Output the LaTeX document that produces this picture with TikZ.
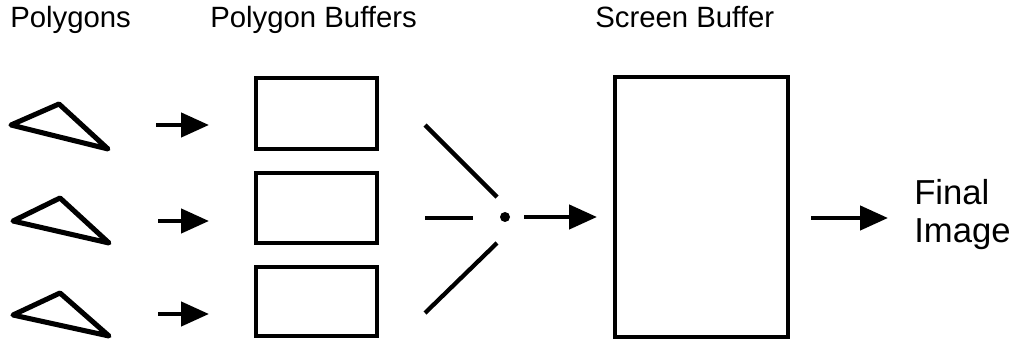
\documentclass[tikz,border=0pt]{standalone}
\usepackage{fontspec}
\setmainfont{Liberation Sans}
\usetikzlibrary{arrows.meta}

\begin{document}
\begin{tikzpicture}[x=0.75pt,y=-0.75pt,
  buf/.style={draw,line width=3.2pt,minimum width=#1,inner sep=0pt,outer sep=0pt},
  buf/.default=91pt,
  tri/.style={line width=3.8pt,line join=round},
  arr/.style={-{Triangle[length=21pt,width=18pt]},line width=3.4pt},
  fan/.style={line width=3.2pt},
  lab/.style={font=\fontsize{22}{26}\selectfont,anchor=base west,inner sep=0pt}]
\useasboundingbox (0,0) rectangle (1016,341);
% column titles
\node[lab] (tpoly) at (10,28) {Polygons};
\node[lab] (tbuf) at (210,28) {Polygon Buffers};
\node[lab] (tscr) at (595,28) {Screen Buffer};
% polygons
\draw[tri] (11,125) -- (59,104) -- (108,149) -- cycle;
\draw[tri] (13,221) -- (60,198) -- (109,243) -- cycle;
\draw[tri] (13,315) -- (60,293) -- (109,336) -- cycle;
% polygon buffers
\node[buf,minimum height=53pt] (b1) at (316.5,113.5) {};
\node[buf,minimum height=52.5pt] (b2) at (316.5,208) {};
\node[buf,minimum height=52pt] (b3) at (316.5,301.5) {};
\coordinate (s1) at (156,125);
\coordinate (s2) at (158,221);
\coordinate (s3) at (158,314);
\draw[arr] (s1) -- (209,125);
\draw[arr] (s2) -- (209,221);
\draw[arr] (s3) -- (209,314);
% merge
\node[circle,fill,inner sep=0pt,minimum size=7.5pt] (mix) at (505,217) {};
\draw[fan] (425,125) -- (497,197);
\draw[fan] (425,218) -- (473,218);
\draw[fan] (497,243) -- (425,313);
% screen buffer
\node[buf=129.75pt,minimum height=195pt] (scr) at (701.5,207) {};
\draw[arr,shorten <=10.5pt,shorten >=13.5pt] (mix) -- (scr.west |- mix);
% final image
\node[font=\fontsize{26}{28.5}\selectfont,align=left,anchor=west,inner sep=0pt] (fin) at (914,215) {Final\\Image};
\coordinate (o1) at (811,218);
\coordinate (o2) at (888,218);
\draw[arr] (o1) -- (o2);
\end{tikzpicture}
\end{document}
